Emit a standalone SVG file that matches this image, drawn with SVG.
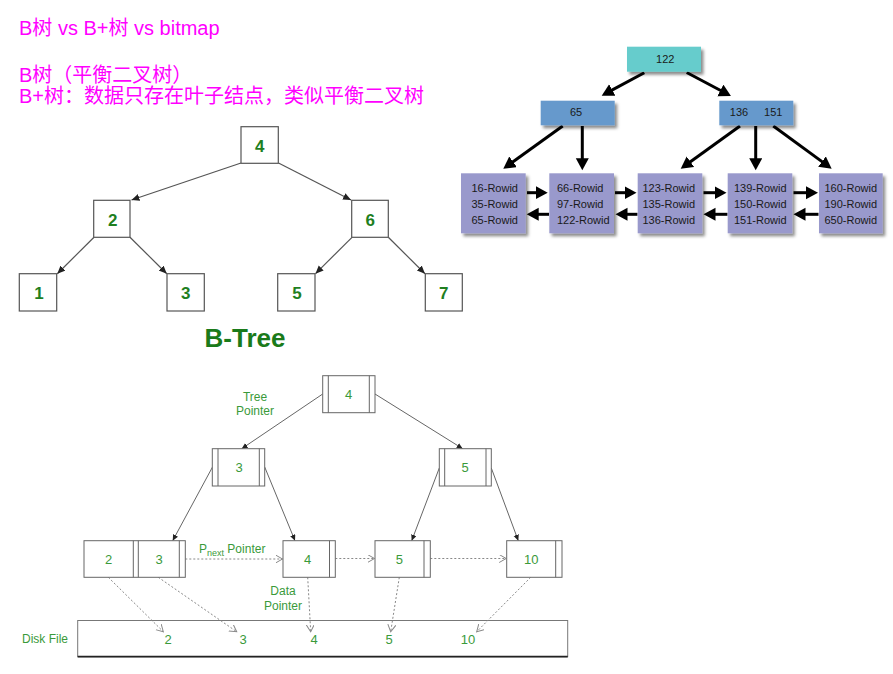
<svg xmlns="http://www.w3.org/2000/svg" width="893" height="674" viewBox="0 0 893 674">
<defs>
<style>
.title{font-family:"Liberation Sans","Noto Sans CJK SC",sans-serif;font-size:20px;fill:#FF00FF}
.bt rect{fill:#fff;stroke:#555;stroke-width:1.2}
.bt text{font-family:"Liberation Sans",Arial,sans-serif;font-size:17px;font-weight:bold;fill:#1f7f1f;text-anchor:middle}
.btl{stroke:#555;stroke-width:1.2;fill:none;marker-end:url(#tri)}
.bp rect{stroke:none;filter:url(#sh)}
.bp text{font-family:"Liberation Sans",Arial,sans-serif;font-size:11px;fill:#1a1a1a}
.bpl{stroke:#000;stroke-width:3;fill:none;marker-end:url(#big)}
.lo rect{fill:#fff;stroke:#666;stroke-width:1}
.lo line{stroke:#666;stroke-width:1}
.lo text,.lt{font-family:"Liberation Sans",Arial,sans-serif;font-size:13px;fill:#3a9a3a;text-anchor:middle}
.lbl{font-family:"Liberation Sans",Arial,sans-serif;font-size:12px;fill:#3a9a3a;text-anchor:middle}
.lbls{font-family:"Liberation Sans",Arial,sans-serif;font-size:12px;fill:#3a9a3a;text-anchor:start}
.sl{stroke:#666;stroke-width:1;fill:none;marker-end:url(#sm)}
.dl{stroke:#888;stroke-width:1;stroke-dasharray:2,2;fill:none;marker-end:url(#open)}
</style>
<filter id="sh" x="-20%" y="-20%" width="150%" height="150%">
<feDropShadow dx="2.5" dy="3" stdDeviation="1.5" flood-color="#000" flood-opacity="0.45"/>
</filter>
<marker id="tri" markerUnits="userSpaceOnUse" markerWidth="10" markerHeight="8" refX="8" refY="3.5" orient="auto"><path d="M0,0 L8,3.5 L0,7 z" fill="#222"/></marker>
<marker id="big" markerUnits="userSpaceOnUse" markerWidth="14" markerHeight="14" refX="3" refY="6.5" orient="auto"><path d="M0,0 L12,6.5 L0,13 z" fill="#000"/></marker>
<marker id="sm" markerUnits="userSpaceOnUse" markerWidth="8" markerHeight="6" refX="6" refY="2.75" orient="auto"><path d="M0,0 L6,2.75 L0,5.5 z" fill="#222"/></marker>
<marker id="open" markerUnits="userSpaceOnUse" markerWidth="10" markerHeight="10" refX="7" refY="4" orient="auto"><path d="M0,0 L7,4 L0,8" fill="none" stroke="#888" stroke-width="1"/></marker>
</defs>
<rect width="893" height="674" fill="#fff"/>

<g id="titles">
<text class="title" x="19" y="35">B树 vs B+树 vs bitmap</text>
<text class="title" x="19" y="81.5">B树（平衡二叉树）</text>
<text class="title" x="19" y="102.5">B+树：数据只存在叶子结点，类似平衡二叉树</text>
</g>

<!-- B-Tree (upper left) -->
<g id="btree-connectors">
<line class="btl" x1="241" y1="163" x2="131.5" y2="200"/>
<line class="btl" x1="278.5" y1="163" x2="351" y2="200"/>
<line class="btl" x1="94" y1="237.3" x2="57.3" y2="273.7"/>
<line class="btl" x1="130" y1="237.3" x2="166.8" y2="273.7"/>
<line class="btl" x1="352" y1="237.3" x2="315.5" y2="273.7"/>
<line class="btl" x1="388.3" y1="237.3" x2="425" y2="273.7"/>
</g>
<g class="bt">
<g id="bt-4"><rect x="241" y="126.7" width="37.3" height="36.6"/><text x="259.7" y="152">4</text></g>
<g id="bt-2"><rect x="93.7" y="200.3" width="36.3" height="37"/><text x="112.7" y="226">2</text></g>
<g id="bt-6"><rect x="351.7" y="200.3" width="36.6" height="37"/><text x="370.3" y="226">6</text></g>
<g id="bt-1"><rect x="19.3" y="273.7" width="37.4" height="37.3"/><text x="39" y="299.3">1</text></g>
<g id="bt-3"><rect x="167" y="273.7" width="37.3" height="37.3"/><text x="185.7" y="299.3">3</text></g>
<g id="bt-5"><rect x="277.7" y="273.7" width="37.3" height="37.3"/><text x="297" y="299.3">5</text></g>
<g id="bt-7"><rect x="425.3" y="273.7" width="37" height="37.3"/><text x="443.7" y="299.3">7</text></g>
</g>
<text id="btree-caption" x="245" y="347" font-family="Liberation Sans,Arial,sans-serif" font-size="26" font-weight="bold" fill="#1a7a1a" text-anchor="middle">B-Tree</text>

<!-- B+ tree (upper right) -->
<g id="bplus-connectors">
<line class="bpl" x1="644.3" y1="72.7" x2="609.6" y2="91.4"/>
<line class="bpl" x1="686.7" y1="72.5" x2="723" y2="91.8"/>
<line class="bpl" x1="562.7" y1="126" x2="510.6" y2="163.5"/>
<line class="bpl" x1="582.3" y1="126" x2="582.3" y2="161.3"/>
<line class="bpl" x1="740" y1="126" x2="688" y2="163.5"/>
<line class="bpl" x1="755.7" y1="126" x2="755.7" y2="161.3"/>
<line class="bpl" x1="773.3" y1="126" x2="824.4" y2="163.4"/>
<line class="bpl" x1="527" y1="192.7" x2="538.7" y2="192.7"/>
<line class="bpl" x1="549" y1="214.3" x2="535.7" y2="214.3"/>
<line class="bpl" x1="615" y1="192.7" x2="627.5" y2="192.7"/>
<line class="bpl" x1="637.5" y1="214.3" x2="624.5" y2="214.3"/>
<line class="bpl" x1="703.5" y1="192.7" x2="717.5" y2="192.7"/>
<line class="bpl" x1="727.5" y1="214.3" x2="712.5" y2="214.3"/>
<line class="bpl" x1="793.5" y1="192.7" x2="809" y2="192.7"/>
<line class="bpl" x1="818.5" y1="214.3" x2="802.5" y2="214.3"/>
</g>
<g class="bp">
<g id="bp-122"><rect x="627" y="46.7" width="74" height="25" fill="#66CCCC"/><text x="665.3" y="63.3" text-anchor="middle">122</text></g>
<g id="bp-65"><rect x="540.7" y="100.7" width="74" height="24.6" fill="#6699CC"/><text x="576" y="116.3" text-anchor="middle">65</text></g>
<g id="bp-136-151"><rect x="719.3" y="100.7" width="74" height="24.6" fill="#6699CC"/><text x="739" y="116.3" text-anchor="middle">136</text><text x="773.3" y="116.3" text-anchor="middle">151</text></g>
<g id="bp-leaf1"><rect x="461" y="173.3" width="64.7" height="60" fill="#9999CC"/><text x="471.5" y="192.3">16-Rowid</text><text x="471.5" y="208.3">35-Rowid</text><text x="471.5" y="224.3">65-Rowid</text></g>
<g id="bp-leaf2"><rect x="549.3" y="173.3" width="64.7" height="60" fill="#9999CC"/><text x="557" y="192.3">66-Rowid</text><text x="557" y="208.3">97-Rowid</text><text x="557" y="224.3">122-Rowid</text></g>
<g id="bp-leaf3"><rect x="637.7" y="173.3" width="64.6" height="60" fill="#9999CC"/><text x="642.5" y="192.3">123-Rowid</text><text x="642.5" y="208.3">135-Rowid</text><text x="642.5" y="224.3">136-Rowid</text></g>
<g id="bp-leaf4"><rect x="727.7" y="173.3" width="64.6" height="60" fill="#9999CC"/><text x="734" y="192.3">139-Rowid</text><text x="734" y="208.3">150-Rowid</text><text x="734" y="224.3">151-Rowid</text></g>
<g id="bp-leaf5"><rect x="819" y="173.3" width="63.7" height="60" fill="#9999CC"/><text x="824.5" y="192.3">160-Rowid</text><text x="824.5" y="208.3">190-Rowid</text><text x="824.5" y="224.3">650-Rowid</text></g>
</g>

<!-- Lower B+ tree -->
<g id="disk-file">
<rect x="77.7" y="620.5" width="490" height="36.2" fill="#fff" stroke="#777" stroke-width="1"/>
<line x1="77.7" y1="656.7" x2="567.7" y2="656.7" stroke="#222" stroke-width="1.8"/>
<text class="lt" x="168" y="643.5">2</text>
<text class="lt" x="243" y="643.5">3</text>
<text class="lt" x="314" y="643.5">4</text>
<text class="lt" x="389" y="643.5">5</text>
<text class="lt" x="468" y="643.5">10</text>
</g>
<g id="lower-connectors">
<line class="sl" x1="322.7" y1="394" x2="241.7" y2="448.7"/>
<line class="sl" x1="375" y1="394" x2="462.7" y2="448.7"/>
<line class="sl" x1="212.5" y1="467" x2="172.7" y2="540.7"/>
<line class="sl" x1="264.7" y1="467" x2="295" y2="540.7"/>
<line class="sl" x1="439.3" y1="468" x2="411.7" y2="540.7"/>
<line class="sl" x1="491.3" y1="468" x2="518.3" y2="540.7"/>
<line class="dl" x1="185.3" y1="559" x2="282.5" y2="559"/>
<line class="dl" x1="335.3" y1="558.5" x2="374.5" y2="558.5"/>
<line class="dl" x1="430.3" y1="558.5" x2="506.2" y2="558.5"/>
<line class="dl" x1="108.3" y1="577.3" x2="163.3" y2="631.7"/>
<line class="dl" x1="158.3" y1="577.3" x2="236.7" y2="631.7"/>
<line class="dl" x1="307.7" y1="577.3" x2="310.7" y2="631.7"/>
<line class="dl" x1="399.3" y1="577.3" x2="390.7" y2="631.7"/>
<line class="dl" x1="530.7" y1="577.3" x2="476.7" y2="631.7"/>
</g>
<g class="lo">
<g id="lo-4"><rect x="322.7" y="375.7" width="52.3" height="37"/><line x1="328.3" y1="375.7" x2="328.3" y2="412.7"/><line x1="369.3" y1="375.7" x2="369.3" y2="412.7"/><text x="348.7" y="399">4</text></g>
<g id="lo-3"><rect x="212.3" y="448.7" width="52.4" height="37.3"/><line x1="218" y1="448.7" x2="218" y2="486"/><line x1="259.3" y1="448.7" x2="259.3" y2="486"/><text x="239" y="472.3">3</text></g>
<g id="lo-5"><rect x="439.3" y="448.7" width="52" height="37.3"/><line x1="444.7" y1="448.7" x2="444.7" y2="486"/><line x1="486" y1="448.7" x2="486" y2="486"/><text x="465" y="472">5</text></g>
<g id="lo-leaf-2-3"><rect x="84" y="540.7" width="101.3" height="36.6"/><line x1="133.3" y1="540.7" x2="133.3" y2="577.3"/><line x1="138.3" y1="540.7" x2="138.3" y2="577.3"/><line x1="179.3" y1="540.7" x2="179.3" y2="577.3"/><text x="108.7" y="564">2</text><text x="159" y="564">3</text></g>
<g id="lo-leaf-4"><rect x="283" y="540.7" width="52.3" height="36.6"/><line x1="329.5" y1="540.7" x2="329.5" y2="577.3"/><text x="307.7" y="564">4</text></g>
<g id="lo-leaf-5"><rect x="375" y="540.7" width="55.3" height="36.6"/><line x1="424" y1="540.7" x2="424" y2="577.3"/><text x="399.3" y="564">5</text></g>
<g id="lo-leaf-10"><rect x="506.7" y="540.7" width="55.3" height="36.6"/><line x1="555.7" y1="540.7" x2="555.7" y2="577.3"/><text x="531.3" y="564">10</text></g>
</g>
<g id="lower-labels">
<text class="lbl" x="255" y="400.5">Tree</text>
<text class="lbl" x="255" y="414.5">Pointer</text>
<text class="lbl" x="45" y="643">Disk File</text>
<text class="lbl" x="283" y="595">Data</text>
<text class="lbl" x="283" y="609.5">Pointer</text>
<text class="lbls" x="199" y="553">P<tspan font-size="9" dy="3">next</tspan><tspan dy="-3"> Pointer</tspan></text>
</g>
</svg>
